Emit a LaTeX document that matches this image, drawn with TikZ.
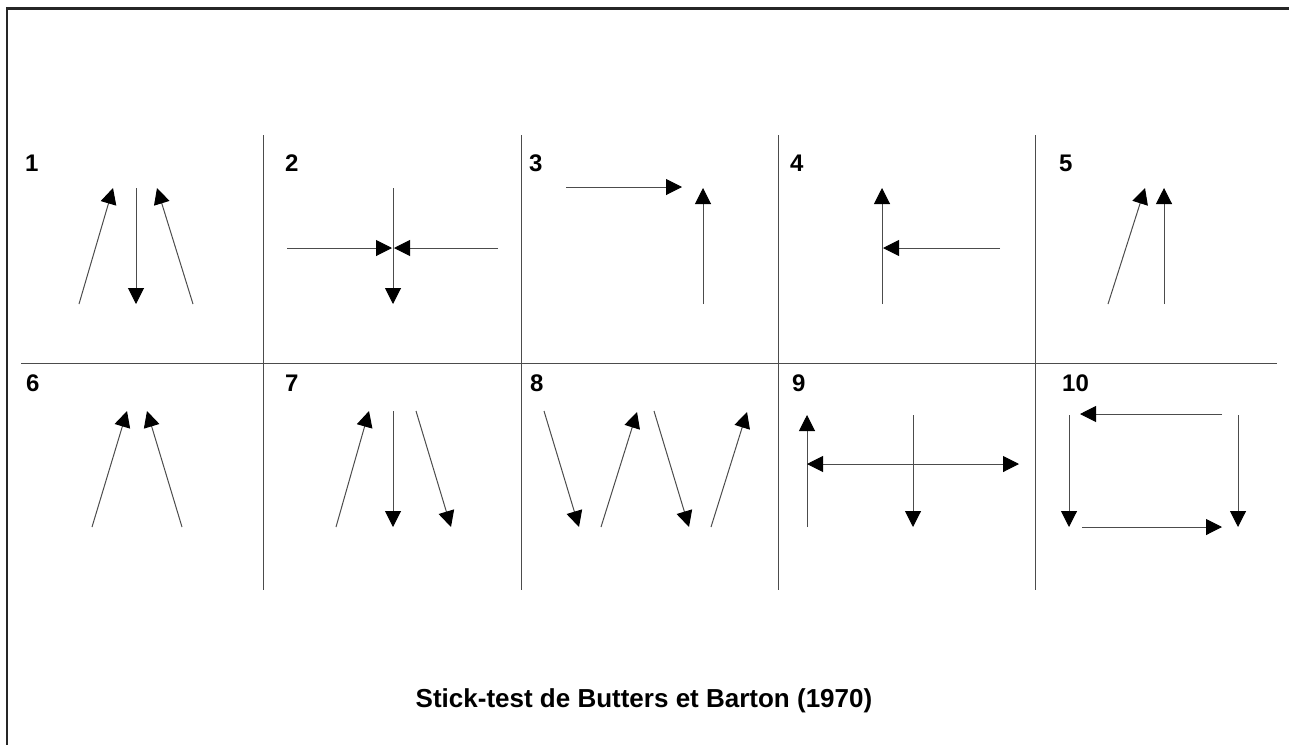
\documentclass[tikz,border=0pt]{standalone}
\usepackage{fontspec}
\setmainfont{Liberation Sans}
\usetikzlibrary{arrows.meta}
\begin{document}
\begin{tikzpicture}[x=1pt,y=-1pt,
  frame/.style={draw=black!85, line width=2.6pt},
  grid/.style={draw=black!70, line width=0.9pt},
  stick/.style={draw=black!70, line width=1pt, -{Triangle[length=16pt,width=16pt,color=black]}},
  twostick/.style={draw=black!70, line width=1pt, {Triangle[length=16pt,width=16pt,color=black]}-{Triangle[length=16pt,width=16pt,color=black]}},
  num/.style={font=\bfseries\fontsize{24}{28}\selectfont, anchor=west, inner sep=0pt},
  title/.style={font=\bfseries\fontsize{26}{30}\selectfont, inner sep=0pt}]
\useasboundingbox (0,0) rectangle (1289,745);

% outer frame (top and left edges)
\coordinate (ftr) at (1289,8.5);
\coordinate (ftl) at (7,8.5);
\coordinate (fbl) at (7,745);
\draw[frame] (ftr) -- (ftl) -- (fbl);

% panel grid
\coordinate (hL) at (21,363); \coordinate (hR) at (1277,363);
\draw[grid] (hL) -- (hR);
\foreach \x [count=\i] in {263,521,778,1035} {
  \coordinate (vt\i) at (\x,135);
  \coordinate (vb\i) at (\x,590);
  \draw[grid] (vt\i) -- (vb\i);
}

% panel numbers
\node[num] (n1) at (25,163.5) {1};
\node[num] (n2) at (285,163.5) {2};
\node[num] (n3) at (529,163.5) {3};
\node[num] (n4) at (790,163.5) {4};
\node[num] (n5) at (1059,163.5) {5};
\node[num] (n6) at (26,383.5) {6};
\node[num] (n7) at (285,383.5) {7};
\node[num] (n8) at (530,383.5) {8};
\node[num] (n9) at (792,383.5) {9};
\node[num] (n10) at (1062,383.5) {10};

% panel 1
\coordinate (p1as) at (79,304);  \coordinate (p1ae) at (113,188);
\coordinate (p1bs) at (136,188); \coordinate (p1be) at (136,304);
\coordinate (p1cs) at (193,304); \coordinate (p1ce) at (157,188);
\draw[stick] (p1as) -- (p1ae);
\draw[stick] (p1bs) -- (p1be);
\draw[stick] (p1cs) -- (p1ce);

% panel 2
\coordinate (p2as) at (393,188); \coordinate (p2ae) at (393,304);
\coordinate (p2bs) at (287,248); \coordinate (p2be) at (392,248);
\coordinate (p2cs) at (498,248); \coordinate (p2ce) at (394,248);
\draw[stick] (p2as) -- (p2ae);
\draw[stick] (p2bs) -- (p2be);
\draw[stick] (p2cs) -- (p2ce);

% panel 3
\coordinate (p3as) at (566,187); \coordinate (p3ae) at (682,187);
\coordinate (p3bs) at (703,304); \coordinate (p3be) at (703,188);
\draw[stick] (p3as) -- (p3ae);
\draw[stick] (p3bs) -- (p3be);

% panel 4
\coordinate (p4as) at (882,304);  \coordinate (p4ae) at (882,188);
\coordinate (p4bs) at (1000,248); \coordinate (p4be) at (883,248);
\draw[stick] (p4as) -- (p4ae);
\draw[stick] (p4bs) -- (p4be);

% panel 5
\coordinate (p5as) at (1108,304); \coordinate (p5ae) at (1145,188);
\coordinate (p5bs) at (1164,304); \coordinate (p5be) at (1164,188);
\draw[stick] (p5as) -- (p5ae);
\draw[stick] (p5bs) -- (p5be);

% panel 6
\coordinate (p6as) at (92,527);  \coordinate (p6ae) at (127,411);
\coordinate (p6bs) at (182,527); \coordinate (p6be) at (147,411);
\draw[stick] (p6as) -- (p6ae);
\draw[stick] (p6bs) -- (p6be);

% panel 7
\coordinate (p7as) at (336,527); \coordinate (p7ae) at (369,411);
\coordinate (p7bs) at (393,411); \coordinate (p7be) at (393,527);
\coordinate (p7cs) at (416,411); \coordinate (p7ce) at (451,527);
\draw[stick] (p7as) -- (p7ae);
\draw[stick] (p7bs) -- (p7be);
\draw[stick] (p7cs) -- (p7ce);

% panel 8
\coordinate (p8as) at (544,411); \coordinate (p8ae) at (579,527);
\coordinate (p8bs) at (601,527); \coordinate (p8be) at (637,412);
\coordinate (p8cs) at (654,411); \coordinate (p8ce) at (689,527);
\coordinate (p8ds) at (711,527); \coordinate (p8de) at (747,412);
\draw[stick] (p8as) -- (p8ae);
\draw[stick] (p8bs) -- (p8be);
\draw[stick] (p8cs) -- (p8ce);
\draw[stick] (p8ds) -- (p8de);

% panel 9
\coordinate (p9as) at (807,527); \coordinate (p9ae) at (807,415);
\coordinate (p9bs) at (807,464); \coordinate (p9be) at (1019,464);
\coordinate (p9cs) at (913,415); \coordinate (p9ce) at (913,527);
\draw[stick] (p9as) -- (p9ae);
\draw[twostick] (p9bs) -- (p9be);
\draw[stick] (p9cs) -- (p9ce);

% panel 10
\coordinate (p10as) at (1222,414); \coordinate (p10ae) at (1080,414);
\coordinate (p10bs) at (1069,415); \coordinate (p10be) at (1069,527);
\coordinate (p10cs) at (1238,415); \coordinate (p10ce) at (1238,527);
\coordinate (p10ds) at (1082,527); \coordinate (p10de) at (1222,527);
\draw[stick] (p10as) -- (p10ae);
\draw[stick] (p10bs) -- (p10be);
\draw[stick] (p10cs) -- (p10ce);
\draw[stick] (p10ds) -- (p10de);

% caption
\node[title] (cap) at (644,701) {Stick-test de Butters et Barton (1970)};
\end{tikzpicture}
\end{document}
